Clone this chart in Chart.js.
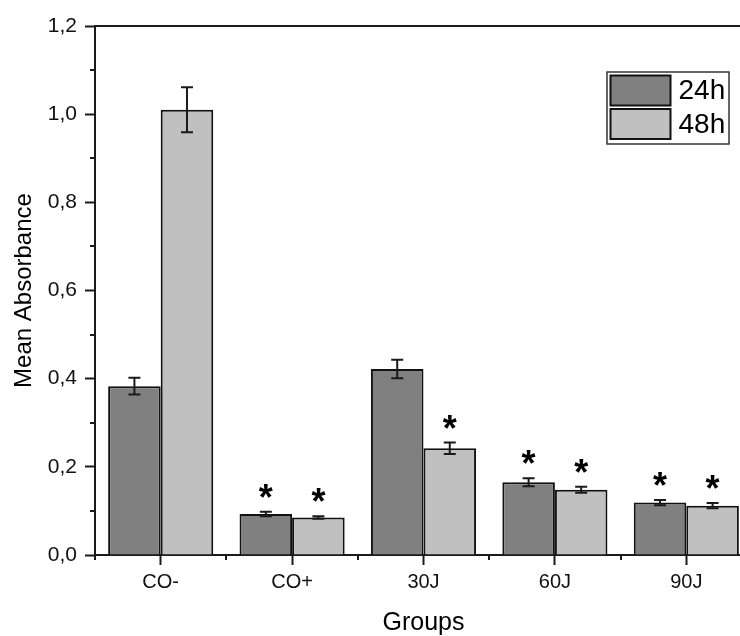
<!DOCTYPE html>
<html>
<head>
<meta charset="utf-8">
<script src="https://cdn.jsdelivr.net/npm/chart.js@4.4.1/dist/chart.umd.min.js"></script>
<style>
  html, body { margin: 0; padding: 0; background: #fff; }
  #wrap { width: 740px; height: 636px; overflow: hidden; position: relative; }
  canvas { display: block; }
</style>
</head>
<body>
<div id="wrap"><canvas id="absChart" width="770" height="636"></canvas></div>
<script>
const groups = ['CO-', 'CO+', '30J', '60J', '90J'];
const mean24 = [0.383, 0.093, 0.422, 0.165, 0.119];
const mean48 = [1.010, 0.085, 0.242, 0.148, 0.112];
const err24 = [0.019, 0.005, 0.021, 0.009, 0.006];
const err48 = [0.051, 0.003, 0.013, 0.007, 0.006];
const sig24 = [false, true, false, true, true];
const sig48 = [false, true, true, true, true];
const yTicks = [0, 0.2, 0.4, 0.6, 0.8, 1.0, 1.2];

const FONT = "'Liberation Sans', Arial, sans-serif";
const INK = '#1a1a1a';

// error bars, significance stars, minor ticks, top frame and boxed legend
const extras = {
  id: 'extras',
  afterDatasetsDraw(chart) {
    const ctx = chart.ctx;
    const y = chart.scales.y;
    const errs = [err24, err48];
    const sigs = [sig24, sig48];
    ctx.save();
    chart.data.datasets.forEach((ds, di) => {
      const meta = chart.getDatasetMeta(di);
      meta.data.forEach((bar, i) => {
        const v = ds.data[i];
        const e = errs[di][i];
        const yt = y.getPixelForValue(v + e);
        const yb = y.getPixelForValue(v - e);
        ctx.strokeStyle = INK;
        ctx.lineWidth = 2;
        ctx.beginPath();
        ctx.moveTo(bar.x, yt); ctx.lineTo(bar.x, yb);
        ctx.moveTo(bar.x - 6, yt); ctx.lineTo(bar.x + 6, yt);
        ctx.moveTo(bar.x - 6, yb); ctx.lineTo(bar.x + 6, yb);
        ctx.stroke();
        if (sigs[di][i]) {
          ctx.fillStyle = '#000';
          ctx.font = 'bold 36px ' + FONT;
          ctx.textAlign = 'center';
          ctx.textBaseline = 'alphabetic';
          ctx.fillText('*', bar.x, yt - 22 + 20);
        }
      });
    });
    ctx.restore();
  },
  afterDraw(chart) {
    const ctx = chart.ctx;
    const area = chart.chartArea;
    const x = chart.scales.x, y = chart.scales.y;
    ctx.save();
    ctx.strokeStyle = INK;
    ctx.lineWidth = 2;
    ctx.beginPath();
    // top frame
    ctx.moveTo(area.left, area.top); ctx.lineTo(area.right + 2, area.top);
    // minor y ticks
    for (let k = 0; k < yTicks.length - 1; k++) {
      const py = Math.round(y.getPixelForValue((yTicks[k] + yTicks[k + 1]) / 2));
      ctx.moveTo(area.left, py); ctx.lineTo(area.left - 5, py);
    }
    // minor x ticks at category boundaries
    const half = (x.getPixelForValue(1) - x.getPixelForValue(0)) / 2;
    for (let i = 0; i <= groups.length; i++) {
      const px = Math.round(x.getPixelForValue(0) - half + i * 2 * half);
      ctx.moveTo(px, area.bottom); ctx.lineTo(px, area.bottom + 5);
    }
    ctx.stroke();

    // legend box
    const sw = 60, sh = 30;
    const bw = 122, bh = 72;
    const bx = area.right - 23 - bw;
    const by = area.top + 46;
    ctx.lineWidth = 1.5;
    ctx.strokeStyle = '#333';
    ctx.strokeRect(bx, by, bw, bh);
    chart.data.datasets.forEach((ds, di) => {
      const sx = bx + 3.5, sy = by + 3.5 + di * (sh + 3.5);
      ctx.fillStyle = ds.backgroundColor;
      ctx.fillRect(sx, sy, sw, sh);
      ctx.lineWidth = 2;
      ctx.strokeStyle = '#111';
      ctx.strokeRect(sx, sy, sw, sh);
      ctx.fillStyle = '#000';
      ctx.font = '28px ' + FONT;
      ctx.textAlign = 'left';
      ctx.textBaseline = 'middle';
      ctx.fillText(ds.label, sx + sw + 8, sy + sh / 2 + 1);
    });
    ctx.restore();
  }
};

new Chart(document.getElementById('absChart'), {
  type: 'bar',
  data: {
    labels: groups,
    datasets: [
      { label: '24h', data: mean24, backgroundColor: '#808080', borderColor: '#111', borderWidth: 2 },
      { label: '48h', data: mean48, backgroundColor: '#c0c0c0', borderColor: '#111', borderWidth: 2 }
    ]
  },
  options: {
    responsive: false,
    animation: false,
    layout: { padding: { top: 26, left: 0, right: 18, bottom: 0 } },
    categoryPercentage: 0.8,
    barPercentage: 1.0,
    plugins: { legend: { display: false }, tooltip: { enabled: false } },
    scales: {
      x: {
        afterFit: s => { s.height = 81; },
        grid: { display: true, drawOnChartArea: false, offset: false, tickLength: 10, tickWidth: 2, tickColor: INK },
        border: { display: true, color: INK, width: 2 },
        ticks: { color: '#111', font: { family: FONT, size: 20 }, padding: 5 },
        title: { display: true, text: 'Groups', color: '#000', font: { family: FONT, size: 25, lineHeight: 1 }, padding: { top: 0, bottom: 0 } }
      },
      y: {
        min: 0,
        max: 1.2,
        afterFit: s => { s.width = 95; },
        afterBuildTicks: s => { s.ticks = yTicks.map(v => ({ value: v })); },
        grid: { display: true, drawOnChartArea: false, tickLength: 10, tickWidth: 2, tickColor: INK },
        border: { display: true, color: INK, width: 2 },
        ticks: { color: '#111', font: { family: FONT, size: 21 }, padding: 8, callback: v => v.toFixed(1).replace('.', ',') },
        title: { display: true, text: 'Mean Absorbance', color: '#000', font: { family: FONT, size: 24, lineHeight: 1 }, padding: { top: 12, bottom: 0 } }
      }
    }
  },
  plugins: [extras]
});
</script>
</body>
</html>
